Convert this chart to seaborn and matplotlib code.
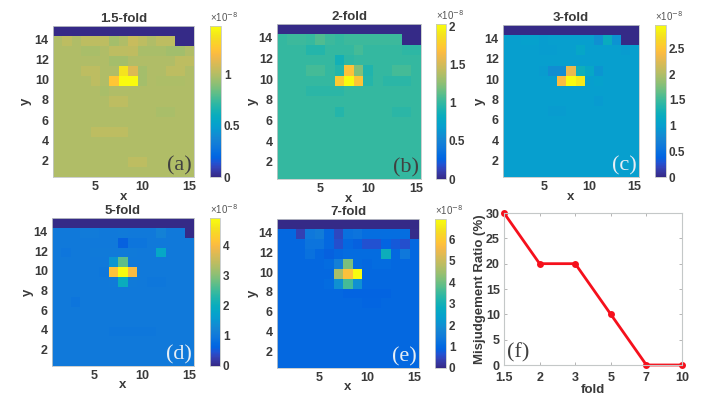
import numpy as np
import pandas as pd
import matplotlib
matplotlib.use("Agg")
import matplotlib.pyplot as plt
from matplotlib.colors import LinearSegmentedColormap
import seaborn as sns

sns.set_theme(style="white")
plt.rcParams['font.family'] = ['Liberation Sans', 'DejaVu Sans']

x_cells = list(range(1, 16))
y_cells = list(range(15, 0, -1))

fold_a = [
 [0,0,0,0,0,0,0,0,0,0,0,0,0,0,0],
 [1.0,1.03,1.0,1.03,1.03,1.03,.97,1.0,1.06,1.03,1.0,1.03,1.03,0,0],
 [1.0,1.0,1.0,.98,.98,1.0,1.03,1.03,1.04,.98,.98,.98,.96,.96,1.0],
 [1.0,1.0,1.0,1.0,1.0,1.0,.97,.97,1.0,1.0,1.0,1.0,1.0,1.03,1.03],
 [1.0,1.0,1.0,1.03,1.03,1.0,1.0,1.38,1.12,.97,1.0,1.0,1.03,1.03,1.0],
 [1.0,1.0,1.0,1.0,1.03,1.0,1.26,1.48,1.48,.97,1.0,.99,.99,.99,1.0],
 [1.0,1.0,1.0,1.0,1.0,.98,1.0,1.0,1.0,1.0,1.0,1.0,1.0,1.0,1.0],
 [1.0,1.0,1.0,1.0,1.0,1.0,1.03,1.03,1.0,1.0,1.0,1.0,1.0,1.0,1.0],
 [1.0,1.0,1.0,1.0,1.0,1.0,1.0,1.0,1.0,1.0,1.0,.98,.98,1.0,1.0],
 [1.0,1.0,1.0,1.0,1.0,1.0,1.0,1.0,1.0,1.0,1.0,1.0,1.0,1.0,1.0],
 [1.0,1.0,1.0,1.0,1.03,1.03,1.03,1.03,1.0,1.0,1.0,1.0,1.0,1.0,1.0],
 [1.0,1.0,1.0,1.0,1.0,1.0,1.0,1.0,1.0,1.0,1.0,1.0,1.0,1.0,1.0],
 [1.0,1.0,1.0,1.0,1.0,1.0,1.0,1.0,1.0,1.0,1.0,1.0,1.0,1.0,1.0],
 [1.0,1.0,1.0,1.0,1.0,1.0,1.0,1.0,1.03,1.03,1.0,1.0,1.0,1.0,1.0],
 [1.0,1.0,1.0,1.0,1.0,1.0,1.0,1.0,1.0,1.0,1.0,1.0,1.0,1.0,1.0],
]
fold_b = [
 [0,0,0,0,0,0,0,0,0,0,0,0,0,0,0],
 [1.0,1.03,1.03,1.01,1.08,1.03,1.0,1.03,1.03,1.03,1.03,1.03,1.03,0,0],
 [1.0,1.0,1.0,.95,.95,1.0,1.0,1.0,1.05,1.0,1.0,1.0,1.0,.98,.98],
 [1.0,1.0,1.0,1.0,1.0,1.0,.88,.98,1.0,1.0,1.0,1.0,1.0,1.0,1.0],
 [1.0,1.0,1.0,1.05,1.05,1.0,.95,1.7,1.22,.93,1.0,1.0,1.05,1.05,1.0],
 [1.0,1.0,1.0,1.0,1.0,1.0,1.75,2.03,1.72,.95,1.0,.97,.97,.97,1.0],
 [1.0,1.0,1.0,.97,.97,.97,.97,1.0,1.0,1.0,1.0,1.0,1.0,1.0,1.0],
 [1.0,1.0,1.0,1.0,1.0,1.0,1.0,1.0,1.0,1.0,1.0,1.0,1.0,1.0,1.0],
 [1.0,1.0,1.0,1.0,1.0,1.0,.95,1.0,1.0,1.0,1.0,1.0,.97,.97,1.0],
 [1.0,1.0,1.0,1.0,1.0,1.0,1.0,1.0,1.0,1.0,1.0,1.0,1.0,1.0,1.0],
 [1.0,1.0,1.0,1.0,1.0,1.0,1.0,1.0,1.0,1.0,1.0,1.0,1.0,1.0,1.0],
 [1.0,1.0,1.0,1.0,1.0,1.0,1.0,1.0,1.0,1.0,1.0,1.0,1.0,1.0,1.0],
 [1.0,1.0,1.0,1.0,1.0,1.0,1.0,1.0,1.0,1.0,1.0,1.0,1.0,1.0,1.0],
 [1.0,1.0,1.0,1.0,1.0,1.0,1.0,1.0,1.0,1.0,1.0,1.0,1.0,1.0,1.0],
 [1.0,1.0,1.0,1.0,1.0,1.0,1.0,1.0,1.0,1.0,1.0,1.0,1.0,1.0,1.0],
]
fold_c = [
 [0,0,0,0,0,0,0,0,0,0,0,0,0,0,0],
 [1.0,1.0,1.02,1.02,.98,1.0,1.0,1.0,1.0,1.0,.85,1.18,.88,0,0],
 [1.0,1.0,1.0,1.0,.98,.98,1.0,1.0,1.1,1.0,1.0,1.0,1.0,.97,1.0],
 [1.0,1.0,1.0,1.0,1.0,1.0,1.0,1.0,1.0,1.0,1.0,1.0,1.0,1.0,1.0],
 [1.0,1.0,1.0,1.0,.97,.83,.83,2.32,1.24,1.12,.9,1.0,1.0,1.0,1.0],
 [1.0,1.0,1.0,1.0,1.0,1.0,2.42,2.96,2.8,1.0,1.03,1.0,1.0,1.0,1.0],
 [1.0,1.0,1.0,1.0,1.0,1.0,1.0,1.0,1.0,1.0,1.0,1.0,1.0,1.0,1.0],
 [1.0,1.0,1.0,1.0,1.0,1.0,1.0,1.0,1.0,1.0,.95,1.0,1.0,1.0,1.0],
 [1.0,1.0,1.0,1.0,1.0,.96,.96,1.0,1.0,1.0,1.0,1.0,1.0,1.0,1.0],
 [1.0,1.0,1.0,1.0,1.0,1.0,1.0,1.0,1.0,1.0,1.0,1.0,1.0,1.0,1.0],
 [1.0,1.0,1.0,1.0,1.0,1.0,1.0,1.0,1.0,1.0,1.0,1.0,1.0,1.0,1.0],
 [1.0,1.0,1.0,1.0,1.0,1.0,1.0,1.0,1.0,1.0,1.0,1.0,1.0,1.0,1.0],
 [1.0,1.0,1.0,1.0,1.0,1.0,1.0,1.0,1.0,1.0,1.0,1.0,1.0,1.0,1.0],
 [1.0,1.0,1.0,1.0,1.0,1.0,1.0,1.0,1.0,1.0,1.0,1.0,1.0,1.0,1.0],
 [1.0,1.0,1.0,1.0,1.0,1.0,1.0,1.0,1.0,1.0,1.0,1.0,1.0,1.0,1.0],
]
fold_d = [
 [0,0,0,0,0,0,0,0,0,0,0,0,0,0,0],
 [1.0,1.0,1.0,1.05,1.05,1.0,1.0,1.03,1.0,1.0,1.0,1.15,1.0,1.0,0],
 [1.0,1.0,1.0,1.0,1.0,1.0,1.0,.6,.92,.92,1.0,1.0,1.0,1.0,1.0],
 [1.0,.95,1.0,1.0,1.03,1.03,1.03,1.03,1.03,1.0,1.0,1.85,1.0,1.0,1.0],
 [1.0,1.0,1.0,1.0,1.0,1.0,1.5,2.7,1.0,1.0,1.0,1.0,1.0,1.0,1.0],
 [1.0,1.0,1.0,1.0,1.0,.97,4.1,4.9,4.0,1.0,1.0,1.0,1.0,1.0,1.0],
 [1.0,1.0,1.0,1.0,1.0,1.0,1.03,2.0,1.03,1.0,.97,.97,1.0,1.0,1.0],
 [1.0,1.0,1.0,1.0,1.0,1.0,1.0,1.0,1.0,1.0,1.0,1.0,1.0,1.0,1.0],
 [1.0,1.0,.92,1.0,1.0,1.0,1.0,1.0,1.0,1.0,1.0,1.0,1.0,1.0,1.0],
 [1.0,1.0,1.0,1.0,1.0,1.0,1.0,1.0,1.0,1.0,1.0,1.0,1.0,1.0,1.0],
 [1.0,1.0,1.0,1.0,1.0,1.0,1.0,1.0,1.0,1.0,1.0,1.0,1.0,1.0,1.0],
 [1.0,1.0,1.0,1.0,1.0,1.0,.97,.97,.97,.97,.97,1.0,1.0,1.0,1.0],
 [1.0,1.0,1.0,1.0,1.0,1.0,1.0,1.0,1.0,1.0,1.0,1.0,1.0,1.0,1.0],
 [1.0,1.0,1.0,1.0,1.0,1.0,1.0,1.0,1.0,1.0,1.0,1.0,1.0,1.0,1.0],
 [1.0,1.0,1.0,1.0,1.0,1.0,1.0,1.0,1.0,1.0,1.0,1.0,1.0,1.0,1.0],
]
fold_e = [
 [0,0,0,0,0,0,0,0,0,0,0,0,0,0,0],
 [1.0,1.0,.4,1.4,1.5,1.0,.5,1.2,1.3,1.12,1.12,1.12,1.12,1.12,.05],
 [1.0,1.0,1.0,1.3,1.3,1.0,.6,1.0,.85,.65,.65,.9,.75,.6,1.0],
 [1.0,1.0,1.0,1.2,1.0,.85,1.0,1.08,1.08,1.08,1.08,2.9,1.0,1.4,1.0],
 [1.0,1.0,1.0,1.0,1.0,1.08,1.6,4.1,1.08,1.0,1.08,1.08,1.0,1.0,1.0],
 [1.0,1.0,1.0,1.0,1.0,1.0,4.6,5.8,6.95,1.0,1.0,1.0,1.0,1.0,1.0],
 [1.0,1.0,1.0,1.0,1.0,1.08,2.0,3.6,2.0,1.0,1.0,1.0,1.0,1.0,1.0],
 [1.0,1.0,1.0,1.0,1.0,1.0,1.0,.92,.92,.92,.92,.92,1.0,1.0,1.0],
 [1.0,1.0,1.0,1.0,1.0,1.0,1.0,1.0,1.0,.93,.93,1.0,1.0,1.0,1.0],
 [1.0,1.0,1.0,1.0,1.0,1.0,1.0,1.0,1.0,1.0,1.0,1.0,1.0,1.0,1.0],
 [1.0,1.0,1.0,1.0,1.0,1.0,1.0,1.0,1.0,1.0,1.0,1.0,1.0,1.0,1.0],
 [1.0,1.0,1.0,1.0,1.0,1.0,1.0,1.0,1.0,1.0,1.0,1.0,1.0,1.0,1.0],
 [1.0,1.0,1.0,1.0,1.0,1.0,1.0,1.0,1.0,1.0,1.0,1.0,1.0,1.0,1.0],
 [1.0,1.0,1.0,1.0,1.0,1.0,1.0,1.0,1.0,1.0,1.0,1.0,1.0,1.0,1.0],
 [1.0,1.0,1.0,1.0,1.0,1.0,1.0,1.0,1.0,1.0,1.0,1.0,1.0,1.0,1.0],
]

fold_labels = ["1.5", "2", "3", "5", "7", "10"]
misjudgement = [30, 20, 20, 10, 0, 0]

parula = LinearSegmentedColormap.from_list("parula", [
    (0.2081,0.1663,0.5292),(0.2123,0.2138,0.6270),(0.1959,0.2645,0.7279),
    (0.1253,0.3242,0.8303),(0.0117,0.3875,0.8820),(0.0165,0.4266,0.8786),
    (0.0498,0.4586,0.8641),(0.0723,0.4887,0.8467),(0.0793,0.5200,0.8312),
    (0.0641,0.5570,0.8240),(0.0343,0.5966,0.8199),(0.0239,0.6287,0.8038),
    (0.0228,0.6535,0.7768),(0.0384,0.6743,0.7436),(0.0843,0.6928,0.7062),
    (0.1453,0.7098,0.6646),(0.2178,0.7250,0.6193),(0.3022,0.7376,0.5712),
    (0.3953,0.7459,0.5244),(0.4871,0.7491,0.4840),(0.5709,0.7485,0.4494),
    (0.6473,0.7456,0.4188),(0.7184,0.7411,0.3905),(0.7858,0.7356,0.3633),
    (0.8507,0.7299,0.3360),(0.9139,0.7258,0.3063),(0.9739,0.7314,0.2666),
    (0.9990,0.7653,0.2164),(0.9880,0.8066,0.1794),(0.9697,0.8481,0.1475),
    (0.9589,0.8949,0.1132),(0.9661,0.9514,0.0755),(0.9763,0.9831,0.0538)], N=256)

W, H = 728, 403
TXT = "#3a3a3a"
EDGE = "#c4c8c8"
fig = plt.figure(figsize=(W/100, H/100), dpi=100, facecolor="white")

def add(x0, y0, x1, y1):
    return fig.add_axes([x0/W, 1-y1/H, (x1-x0)/W, (y1-y0)/H])

panels = [
 ("1.5-fold", fold_a, (53,26,194,177), (210,221), 1.48, [0,.5,1], ["0","0.5","1"], "(a)", "#404040", 32),
 ("2-fold", fold_b, (277,24,421,179), (436,446), 2.03, [0,.5,1,1.5,2], ["0","0.5","1","1.5","2"], "(b)", "#404040", 259),
 ("3-fold", fold_c, (503,25,639,177), (655,666), 2.96, [0,.5,1,1.5,2,2.5], ["0","0.5","1","1.5","2","2.5"], "(c)", "#e6eef5", 486),
 ("5-fold", fold_d, (52,218,194,366), (210,220), 4.9, [0,1,2,3,4], ["0","1","2","3","4"], "(d)", "#e6eef5", 34),
 ("7-fold", fold_e, (277,219,419,368), (435,446), 6.95, [0,1,2,3,4,5,6], ["0","1","2","3","4","5","6"], "(e)", "#e6eef5", 259),
]

for title, values, box, cb, vmax, cticks, clabels, tag, tagc, ylab_x in panels:
    x0, y0, x1, y1 = box
    ax = add(x0, y0, x1, y1)
    cax = add(cb[0], y0, cb[1], y1)
    df = pd.DataFrame(values, index=y_cells, columns=x_cells)
    sns.heatmap(df, ax=ax, cbar_ax=cax, cmap=parula, vmin=0, vmax=vmax,
                linewidths=0, cbar_kws={"ticks": cticks})
    ax.set_xticks([4.5, 9.5, 14.5], ["5", "10", "15"], rotation=0)
    ax.set_yticks([15-v+0.5 for v in (14,12,10,8,6,4,2)],
                  ["14","12","10","8","6","4","2"], rotation=0)
    ax.tick_params(length=0, labelsize=9, labelcolor=TXT, pad=3)
    for lab in ax.get_xticklabels()+ax.get_yticklabels():
        lab.set_fontweight("bold")
    for s in ax.spines.values():
        s.set_visible(True); s.set_color(EDGE); s.set_linewidth(0.6)
    ax.set_title(title, fontsize=9.5, fontweight="bold", color=TXT, pad=3)
    ax.set_xlabel("x", fontsize=9.5, fontweight="bold", color=TXT)
    ax.xaxis.set_label_coords(0.5, -0.09, transform=ax.transAxes)
    ax.xaxis.label.set_va("top")
    ax.set_ylabel("y", fontsize=9.5, fontweight="bold", color=TXT)
    ax.yaxis.set_label_coords((ylab_x-x0)/(x1-x0), 0.5, transform=ax.transAxes)
    ax.text(0.985, 0.075, tag, transform=ax.transAxes, ha="right", va="center",
            fontsize=16, color=tagc, family="Liberation Serif")
    cax.set_yticks(cticks, clabels)
    cax.tick_params(length=0, labelsize=8.5, labelcolor=TXT, pad=2, right=True, labelright=True)
    for lab in cax.get_yticklabels():
        lab.set_fontweight("bold")
    cbar = ax.collections[0].colorbar
    cbar.outline.set_edgecolor(EDGE); cbar.outline.set_linewidth(0.6)
    cax.text(0.0, 1.015, "×10$^{-8}$", transform=cax.transAxes, ha="left", va="bottom",
             fontsize=7, color="#555555")

ax = add(504, 213, 682, 365)
sns.lineplot(x=fold_labels, y=misjudgement, ax=ax, color="#f5101c", linewidth=2,
             marker="o", markersize=5, markeredgewidth=0, clip_on=False, sort=False, errorbar=None)
ax.set_xlim(0, 5)
ax.set_ylim(0, 30)
ax.set_yticks([0,5,10,15,20,25,30])
ax.tick_params(axis="both", which="major", direction="in", length=2, width=0.5, color="#999999",
               labelsize=9, labelcolor=TXT, top=True, right=True, bottom=True, left=True)
ax.tick_params(axis="x", pad=5)
ax.tick_params(axis="y", pad=3)
for lab in ax.get_xticklabels()+ax.get_yticklabels():
    lab.set_fontweight("bold")
for s in ax.spines.values():
    s.set_visible(True); s.set_color(EDGE); s.set_linewidth(0.8)
ax.set_xlabel("fold", fontsize=9.5, fontweight="bold", color=TXT, labelpad=0)
ax.set_ylabel("Misjudgement Ratio (%)", fontsize=9.5, fontweight="bold", color=TXT)
ax.yaxis.set_label_coords((486-504)/178, 0.5, transform=ax.transAxes)
ax.text(0.015, 0.08, "(f)", transform=ax.transAxes, ha="left", va="center",
        fontsize=16, color="#404040", family="Liberation Serif")

fig.savefig("out.png", dpi=100, facecolor="white")
